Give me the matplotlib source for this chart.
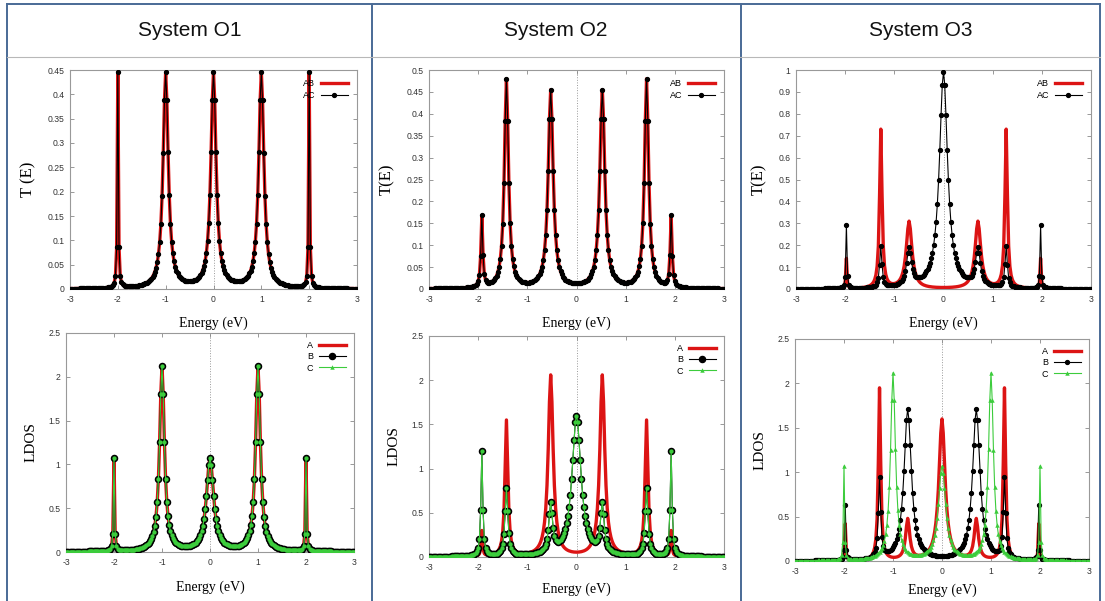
import numpy as np
import matplotlib.pyplot as plt
from matplotlib.lines import Line2D

W, H = 1105, 601
RED = '#dc1414'
GREEN = '#3ccc3c'

plt.rcParams['axes.unicode_minus'] = False

# energy grid of the calculation
e_start, e_stop, e_step = -3.0, 3.0, 0.025

# peaks: centre (eV), peak value, half width (eV)
o1_t_centres = [-2, -1, 0, 1, 2]
o1_t_heights = [0.445, 0.445, 0.445, 0.445, 0.445]
o1_t_widths = [0.012, 0.065, 0.065, 0.065, 0.012]

o1_ldos_centres = [-2, -1, 0, 1, 2]
o1_ldos_heights = [1.07, 2.12, 1.07, 2.12, 1.07]
o1_ldos_widths = [0.012, 0.06, 0.09, 0.06, 0.012]

o2_t_centres = [-1.925, -1.425, -0.525, 0.525, 1.425, 1.925]
o2_t_heights = [0.168, 0.48, 0.455, 0.455, 0.48, 0.168]
o2_t_widths = [0.022, 0.05, 0.06, 0.06, 0.05, 0.022]

o2_a_centres = [-1.925, -1.425, -0.525, 0.525, 1.425, 1.925]
o2_a_heights = [0.3, 1.55, 2.06, 2.06, 1.55, 0.3]
o2_a_widths = [0.015, 0.035, 0.06, 0.06, 0.035, 0.015]

o2_bc_centres = [-1.925, -1.425, -0.525, 0, 0.525, 1.425, 1.925]
o2_bc_heights = [1.2, 0.78, 0.62, 1.6, 0.62, 0.78, 1.2]
o2_bc_widths = [0.022, 0.035, 0.045, 0.11, 0.045, 0.035, 0.022]

o3_ab_centres = [-1.975, -1.275, -0.7, 0.7, 1.275, 1.975]
o3_ab_heights = [0.14, 0.73, 0.31, 0.31, 0.73, 0.14]
o3_ab_widths = [0.012, 0.03, 0.07, 0.07, 0.03, 0.012]

o3_ac_centres = [-1.975, -1.275, -0.7, 0, 0.7, 1.275, 1.975]
o3_ac_heights = [0.29, 0.195, 0.19, 0.99, 0.19, 0.195, 0.29]
o3_ac_widths = [0.012, 0.028, 0.06, 0.1, 0.06, 0.028, 0.012]

o3_a_centres = [-1.975, -1.275, -0.7, 0, 0.7, 1.275, 1.975]
o3_a_heights = [0.42, 1.95, 0.48, 1.6, 0.48, 1.95, 0.42]
o3_a_widths = [0.012, 0.028, 0.05, 0.075, 0.05, 0.028, 0.012]

o3_b_centres = [-1.975, -1.275, -0.7, 0.7, 1.275, 1.975]
o3_b_heights = [0.63, 0.95, 1.71, 1.71, 0.95, 0.63]
o3_b_widths = [0.012, 0.028, 0.09, 0.09, 0.028, 0.012]

o3_c_centres = [-2, -1, 0, 1, 2]
o3_c_heights = [1.07, 2.12, 1.07, 2.12, 1.07]
o3_c_widths = [0.012, 0.06, 0.09, 0.06, 0.012]

systems = ['System O1', 'System O2', 'System O3']

energy = np.arange(e_start, e_stop + e_step / 2, e_step)


def peaks(e, centres, heights, widths):
    c = np.array(centres, float)
    g = np.array(widths, float)

    def shape(x):
        return g ** 2 / ((np.asarray(x)[:, None] - c) ** 2 + g ** 2)
    # amplitudes chosen so the curve passes through the read peak values
    amp = np.linalg.solve(shape(c), np.array(heights, float))
    return shape(e) @ amp


fig = plt.figure(figsize=(W / 100, H / 100), dpi=100)

# table frame
bg = fig.add_axes([0, 0, 1, 1], zorder=0)
bg.set_xlim(0, W)
bg.set_ylim(H, 0)
bg.axis('off')
border = '#4a6a96'
for x in (7, 372, 741, 1100):
    bg.plot([x, x], [4, H], color=border, lw=1.4)
bg.plot([7, 1100], [4, 4], color=border, lw=1.4)
bg.plot([7, 1100], [57, 57], color='#b8b8b8', lw=0.8)
for xc, name in zip((190, 556, 921), systems):
    bg.text(xc, 31, name, ha='center', va='center', fontsize=15,
            family='Liberation Sans', color='#111111')

leg_font = {'family': 'Liberation Sans', 'size': 6.5}


def make_axes(l, t, r, b, pad):
    ax = fig.add_axes([l / W, 1 - b / H, (r - l) / W, (b - t) / H], zorder=2)
    ax.set_xlim(-3, 3)
    ax.set_xticks(range(-3, 4))
    ax.set_xticklabels([f'{v:g}' for v in range(-3, 4)])
    ax.tick_params(direction='in', top=True, right=True, length=3, width=0.6,
                   color='#888888', labelcolor='#333333', labelsize=6.2, pad=4)
    for lab in ax.get_xticklabels() + ax.get_yticklabels():
        lab.set_family('Liberation Sans')
    for s in ax.spines.values():
        s.set_color('#999999')
        s.set_linewidth(0.8)
    ax.axvline(0, color='#999999', ls=':', lw=0.7, zorder=0)
    ax.set_xlabel('Energy (eV)', family='Liberation Serif', fontsize=10, labelpad=pad)
    return ax


def set_y(ax, ymax, ystep, label, size):
    ticks = np.round(np.arange(0, ymax + ystep / 2, ystep), 3)
    ax.set_ylim(0, ymax)
    ax.set_yticks(ticks)
    ax.set_yticklabels([f'{v:g}' for v in ticks], family='Liberation Sans')
    ax.set_ylabel(label, family='Liberation Serif', fontsize=size, labelpad=8)


def draw_t(ax, ab, ac):
    ax.plot(energy, ab, color=RED, lw=2.4, zorder=3)
    ax.plot(energy, ac, color='black', lw=0.8, marker='o', ms=2.8, zorder=4)
    hs = [Line2D([], [], color=RED, lw=2.4),
          Line2D([], [], color='black', lw=0.8, marker='o', ms=2.8)]
    ax.legend(hs, ['AB', 'AC'], loc='upper right', frameon=False,
              markerfirst=False, handlelength=3.0, handletextpad=0.6,
              labelspacing=0.35, borderaxespad=0.6, prop=leg_font)


def draw_ldos(ax, a, b, c, big):
    ax.plot(energy, a, color=RED, lw=2.4, zorder=3)
    if big:
        ax.plot(energy, b, color='black', lw=0.8, marker='o', ms=4.4, zorder=4)
        ax.plot(energy, c, color=GREEN, lw=0.8, marker='o', ms=3.1, mew=0, zorder=5)
        bh = Line2D([], [], color='black', lw=0.8, marker='o', ms=4.4)
    else:
        ax.plot(energy, b, color='black', lw=0.8, marker='o', ms=2.8, zorder=4)
        ax.plot(energy, c, color=GREEN, lw=0.8, marker='^', ms=3.2, mew=0, zorder=5)
        bh = Line2D([], [], color='black', lw=0.8, marker='o', ms=2.8)
    hs = [Line2D([], [], color=RED, lw=2.4), bh,
          Line2D([], [], color=GREEN, lw=0.8, marker='^', ms=3.2, mew=0)]
    ax.legend(hs, ['A', 'B', 'C'], loc='upper right', frameon=False,
              markerfirst=False, handlelength=3.0, handletextpad=0.6,
              labelspacing=0.25, borderaxespad=0.5, prop=leg_font)


# System O1
ax = make_axes(70, 70, 357, 289, 9)
t1 = peaks(energy, o1_t_centres, o1_t_heights, o1_t_widths)
draw_t(ax, t1, t1)
set_y(ax, 0.45, 0.05, 'T (E)', 12)

ax = make_axes(66, 333, 354, 552, 10)
l1 = peaks(energy, o1_ldos_centres, o1_ldos_heights, o1_ldos_widths)
draw_ldos(ax, l1, l1, l1, True)
set_y(ax, 2.5, 0.5, 'LDOS', 11)

# System O2
ax = make_axes(429, 70, 724, 289, 9)
t2 = peaks(energy, o2_t_centres, o2_t_heights, o2_t_widths)
draw_t(ax, t2, t2)
set_y(ax, 0.5, 0.05, 'T(E)', 12)

ax = make_axes(429, 336, 724, 557, 8)
a2 = peaks(energy, o2_a_centres, o2_a_heights, o2_a_widths)
bc2 = peaks(energy, o2_bc_centres, o2_bc_heights, o2_bc_widths)
draw_ldos(ax, a2, bc2, bc2, True)
set_y(ax, 2.5, 0.5, 'LDOS', 11)

# System O3
ax = make_axes(796, 70, 1091, 289, 9)
ab3 = peaks(energy, o3_ab_centres, o3_ab_heights, o3_ab_widths)
ac3 = peaks(energy, o3_ac_centres, o3_ac_heights, o3_ac_widths)
draw_t(ax, ab3, ac3)
set_y(ax, 1.0, 0.1, 'T(E)', 12)

ax = make_axes(795, 339, 1089, 561, 6)
a3 = peaks(energy, o3_a_centres, o3_a_heights, o3_a_widths)
b3 = peaks(energy, o3_b_centres, o3_b_heights, o3_b_widths)
c3 = peaks(energy, o3_c_centres, o3_c_heights, o3_c_widths)
draw_ldos(ax, a3, b3, c3, False)
set_y(ax, 2.5, 0.5, 'LDOS', 11)

fig.savefig('out.png', dpi=100)
